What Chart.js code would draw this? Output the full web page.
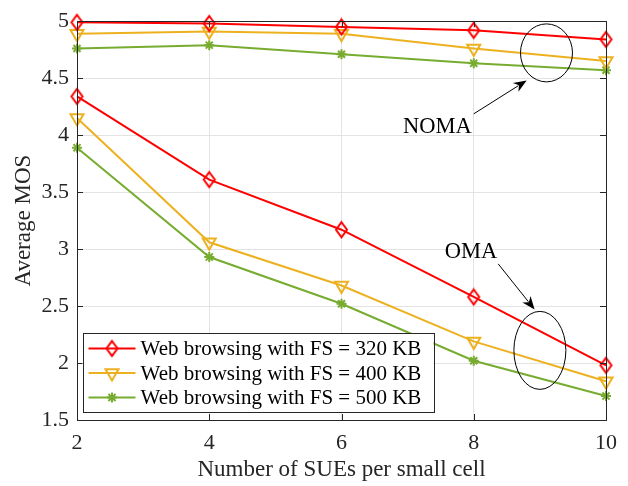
<!DOCTYPE html>
<html>
<head>
<meta charset="utf-8">
<script src="https://cdn.jsdelivr.net/npm/chart.js@4.4.1/dist/chart.umd.min.js"></script>
<style>
  html, body { margin: 0; padding: 0; background: #fff; }
  #wrap { width: 628px; height: 486px; }
</style>
</head>
<body>
<div id="wrap"><canvas id="mosChart" width="628" height="486"></canvas></div>
<script>
// SUEs per small cell vs. average MOS, web browsing at three file sizes
const sueCounts = [2, 4, 6, 8, 10];
const nomaFs320 = [4.99, 4.98, 4.95, 4.92, 4.84];
const nomaFs400 = [4.89, 4.91, 4.89, 4.76, 4.65];
const nomaFs500 = [4.76, 4.79, 4.71, 4.63, 4.57];
const omaFs320 = [4.34, 3.61, 3.17, 2.58, 1.98];
const omaFs400 = [4.15, 3.06, 2.68, 2.19, 1.84];
const omaFs500 = [3.89, 2.93, 2.52, 2.02, 1.71];
const seriesNames = [
    'Web browsing with FS = 320 KB',
    'Web browsing with FS = 400 KB',
    'Web browsing with FS = 500 KB'
];
const xTicks = [2, 4, 6, 8, 10];
const yTicks = [1.5, 2, 2.5, 3, 3.5, 4, 4.5, 5];

const FONT = 'Liberation Serif, Times New Roman, serif';
const AXIS_COLOR = '#262626';

// MATLAB style diamond is taller than it is wide, so build it as an image
function diamondMarker(color, w, h) {
    const c = document.createElement('canvas');
    c.width = w + 4;
    c.height = h + 4;
    const g = c.getContext('2d');
    g.strokeStyle = color;
    g.lineWidth = 2;
    g.beginPath();
    g.moveTo(c.width / 2, 2);
    g.lineTo(c.width - 2, c.height / 2);
    g.lineTo(c.width / 2, c.height - 2);
    g.lineTo(2, c.height / 2);
    g.closePath();
    g.stroke();
    return c;
}

const styles = [
    { color: '#ff0000', pointStyle: diamondMarker('#ff0000', 11, 15), radius: 8, rotation: 0, bw: 2 },
    { color: '#edb120', pointStyle: 'triangle', radius: 7.5, rotation: 180, bw: 2 },
    { color: '#77ac30', pointStyle: 'star', radius: 5, rotation: 0, bw: 2 }
];

function toPoints(values) {
    return sueCounts.map((x, i) => ({ x: x, y: values[i] }));
}

function makeDataset(values, idx, label) {
    const s = styles[idx];
    return {
        label: label,
        data: toPoints(values),
        borderColor: s.color,
        backgroundColor: 'rgba(0,0,0,0)',
        pointBorderColor: s.color,
        pointBackgroundColor: 'rgba(0,0,0,0)',
        borderWidth: 2,
        pointStyle: s.pointStyle,
        pointRadius: s.radius,
        pointRotation: s.rotation,
        pointBorderWidth: s.bw,
        tension: 0,
        clip: false
    };
}

// box, inward tick marks, annotations and legend drawn on top of the plot
const matlabAxes = {
    id: 'matlabAxes',
    afterDatasetsDraw(chart) {
        const { ctx, chartArea: a, scales } = chart;
        const xs = scales.x, ys = scales.y;
        ctx.save();

        // ticks pointing inward
        ctx.strokeStyle = AXIS_COLOR;
        ctx.lineWidth = 1;
        ctx.beginPath();
        yTicks.forEach(v => {
            const py = Math.round(ys.getPixelForValue(v)) + 0.5;
            ctx.moveTo(a.left, py); ctx.lineTo(a.left + 6, py);
            ctx.moveTo(a.right, py); ctx.lineTo(a.right - 6, py);
        });
        xTicks.forEach(v => {
            const px = Math.round(xs.getPixelForValue(v)) + 0.5;
            ctx.moveTo(px, a.bottom); ctx.lineTo(px, a.bottom - 6);
            ctx.moveTo(px, a.top); ctx.lineTo(px, a.top + 6);
        });
        ctx.stroke();

        // axes box
        ctx.strokeRect(Math.round(a.left) + 0.5, Math.round(a.top) + 0.5,
            Math.round(a.right - a.left), Math.round(a.bottom - a.top));

        // annotations
        const notes = chart.options.plugins.matlabAxes.notes;
        ctx.strokeStyle = '#000';
        ctx.fillStyle = '#000';
        ctx.lineWidth = 1;
        notes.forEach(n => {
            const cx = xs.getPixelForValue(n.ellipse.x);
            const cy = ys.getPixelForValue(n.ellipse.y);
            ctx.beginPath();
            ctx.ellipse(cx, cy, n.ellipse.rx, n.ellipse.ry, 0, 0, Math.PI * 2);
            ctx.stroke();

            const x0 = xs.getPixelForValue(n.arrow[0]), y0 = ys.getPixelForValue(n.arrow[1]);
            const x1 = xs.getPixelForValue(n.arrow[2]), y1 = ys.getPixelForValue(n.arrow[3]);
            const ang = Math.atan2(y1 - y0, x1 - x0);
            const head = 14, spread = 0.38;
            ctx.beginPath();
            ctx.moveTo(x0, y0);
            ctx.lineTo(x1 - Math.cos(ang) * head * 0.7, y1 - Math.sin(ang) * head * 0.7);
            ctx.stroke();
            ctx.beginPath();
            ctx.moveTo(x1, y1);
            ctx.lineTo(x1 - head * Math.cos(ang - spread), y1 - head * Math.sin(ang - spread));
            ctx.lineTo(x1 - head * 0.65 * Math.cos(ang), y1 - head * 0.65 * Math.sin(ang));
            ctx.lineTo(x1 - head * Math.cos(ang + spread), y1 - head * Math.sin(ang + spread));
            ctx.closePath();
            ctx.fill();

            ctx.font = '22.5px ' + FONT;
            ctx.textAlign = 'center';
            ctx.textBaseline = 'middle';
            ctx.fillText(n.text, xs.getPixelForValue(n.textAt[0]), ys.getPixelForValue(n.textAt[1]));
        });

        // legend box inside the axes, lower left
        const lg = chart.options.plugins.matlabAxes.legend;
        const bx = a.left + lg.offsetX, by = a.bottom - lg.offsetY - lg.height;
        ctx.fillStyle = '#fff';
        ctx.fillRect(bx, by, lg.width, lg.height);
        ctx.strokeStyle = AXIS_COLOR;
        ctx.strokeRect(Math.round(bx) + 0.5, Math.round(by) + 0.5, lg.width, lg.height);
        ctx.font = '21px ' + FONT;
        ctx.textAlign = 'left';
        ctx.textBaseline = 'middle';
        chart.data.datasets.slice(0, seriesNames.length).forEach((ds, i) => {
            const rowY = by + 15.5 + i * 24.5;
            ctx.strokeStyle = ds.borderColor;
            ctx.fillStyle = 'rgba(0,0,0,0)';
            ctx.lineWidth = 2;
            ctx.beginPath();
            ctx.moveTo(bx + 6, rowY);
            ctx.lineTo(bx + 53, rowY);
            ctx.stroke();
            ctx.lineWidth = ds.pointBorderWidth;
            Chart.helpers.drawPoint(ctx, {
                pointStyle: ds.pointStyle,
                rotation: ds.pointRotation,
                radius: ds.pointRadius,
                borderWidth: ds.pointBorderWidth
            }, bx + 29.5, rowY);
            ctx.fillStyle = '#000';
            ctx.fillText(seriesNames[i], bx + 58, rowY + 1);
        });
        ctx.restore();
    }
};

new Chart(document.getElementById('mosChart'), {
    type: 'line',
    data: {
        datasets: [
            makeDataset(nomaFs320, 0, seriesNames[0]),
            makeDataset(nomaFs400, 1, seriesNames[1]),
            makeDataset(nomaFs500, 2, seriesNames[2]),
            makeDataset(omaFs320, 0, seriesNames[0] + ' (OMA)'),
            makeDataset(omaFs400, 1, seriesNames[1] + ' (OMA)'),
            makeDataset(omaFs500, 2, seriesNames[2] + ' (OMA)')
        ]
    },
    options: {
        responsive: false,
        animation: false,
        devicePixelRatio: 1,
        layout: { padding: { top: 11, right: 22, left: 0, bottom: 0 } },
        plugins: {
            legend: { display: false },
            tooltip: { enabled: false },
            matlabAxes: {
                notes: [
                    { text: 'NOMA', textAt: [7.45, 4.07],
                      arrow: [8.0, 4.187, 8.8, 4.48],
                      ellipse: { x: 9.1, y: 4.722, rx: 26, ry: 29 } },
                    { text: 'OMA', textAt: [7.96, 2.977],
                      arrow: [8.37, 2.87, 8.92, 2.47],
                      ellipse: { x: 9.0, y: 2.111, rx: 26, ry: 39 } }
                ],
                legend: { offsetX: 5.5, offsetY: 8, width: 351, height: 79 }
            }
        },
        scales: {
            x: {
                type: 'linear',
                min: 2,
                max: 10,
                afterBuildTicks: (scale) => { scale.ticks = xTicks.map(v => ({ value: v })); },
                afterFit: (scale) => { scale.height = 66; },
                grid: { color: '#e3e3e3', drawTicks: false },
                border: { display: false },
                ticks: {
                    padding: 10,
                    color: AXIS_COLOR,
                    font: { family: FONT, size: 22 },
                    maxRotation: 0,
                    callback: (v) => String(v)
                },
                title: {
                    display: true,
                    text: 'Number of SUEs per small cell',
                    color: AXIS_COLOR,
                    font: { family: FONT, size: 23 },
                    padding: { top: 0, bottom: 2 }
                }
            },
            y: {
                type: 'linear',
                min: 1.5,
                max: 5,
                afterBuildTicks: (scale) => { scale.ticks = yTicks.map(v => ({ value: v })); },
                afterFit: (scale) => { scale.width = 77; },
                grid: { color: '#e3e3e3', drawTicks: false },
                border: { display: false },
                ticks: {
                    padding: 8,
                    color: AXIS_COLOR,
                    font: { family: FONT, size: 22 },
                    callback: (v) => String(v)
                },
                title: {
                    display: true,
                    text: 'Average MOS',
                    color: AXIS_COLOR,
                    font: { family: FONT, size: 23 },
                    padding: { top: 10, bottom: 0 }
                }
            }
        }
    },
    plugins: [matlabAxes]
});
</script>
</body>
</html>
